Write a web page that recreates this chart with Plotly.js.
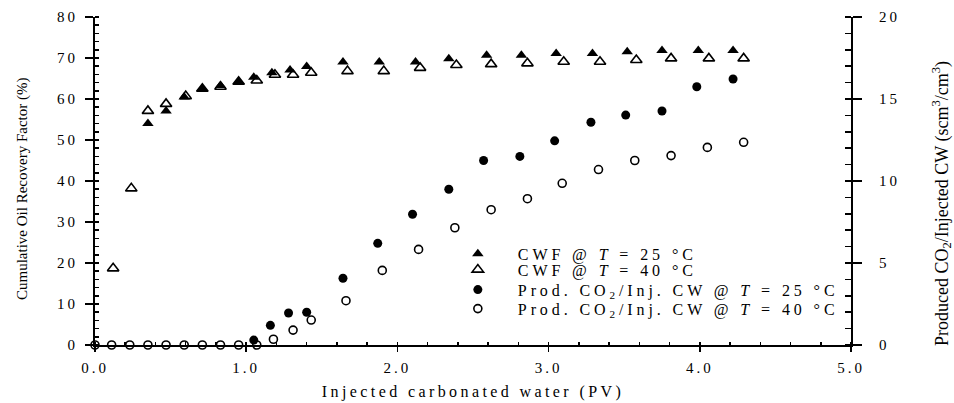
<!DOCTYPE html>
<html>
<head>
<meta charset="utf-8">
<script src="https://cdn.plot.ly/plotly-3.0.1.min.js"></script>
<style>
  html, body { margin: 0; padding: 0; background: #fff; }
  #chart { width: 954px; height: 403px; }
  /* wide, spaced-out lettering for the horizontal labels */
  g.xtick text, g.ytick text, g.y2tick text { letter-spacing: 3px; }
  text.xtitle { letter-spacing: 3.4px; }
  text.legendtext, .infolayer g[class^="legend"] text { letter-spacing: 3.9px; }
</style>
</head>
<body>
<div id="chart"></div>
<script>
// Cumulative oil recovery (left axis, %) for carbonated water flooding
const cwf25X = [0.35, 0.47, 0.59, 0.71, 0.83, 0.95, 1.05, 1.17, 1.29, 1.40, 1.64, 1.88, 2.12, 2.34, 2.59, 2.82, 3.05, 3.29, 3.52, 3.75, 3.99, 4.22];
const cwf25Y = [54.0, 57.1, 60.5, 62.5, 63.3, 64.2, 65.3, 66.4, 67.1, 67.9, 69.0, 69.0, 69.0, 69.8, 70.7, 70.7, 71.1, 71.1, 71.5, 71.8, 71.8, 71.8];

const cwf40X = [0.12, 0.24, 0.35, 0.47, 0.60, 0.71, 0.83, 0.95, 1.07, 1.19, 1.31, 1.43, 1.67, 1.91, 2.15, 2.39, 2.62, 2.86, 3.10, 3.34, 3.58, 3.81, 4.06, 4.29];
const cwf40Y = [18.7, 38.2, 57.1, 58.8, 60.7, 62.5, 63.0, 64.2, 64.5, 65.9, 65.9, 66.4, 66.8, 66.8, 67.6, 68.3, 68.5, 68.7, 69.1, 69.1, 69.5, 69.9, 69.9, 69.9];

// Produced CO2 per injected carbonated water (right axis, scm3/cm3)
const co225X = [1.05, 1.16, 1.28, 1.40, 1.64, 1.87, 2.10, 2.34, 2.57, 2.81, 3.04, 3.28, 3.51, 3.75, 3.98, 4.22];
const co225Y = [0.3, 1.2, 1.95, 2.0, 4.07, 6.2, 7.97, 9.5, 11.25, 11.5, 12.45, 13.58, 14.02, 14.27, 15.75, 16.22];

const co240X = [0.0, 0.11, 0.23, 0.35, 0.47, 0.59, 0.71, 0.83, 0.95, 1.07, 1.18, 1.31, 1.43, 1.66, 1.90, 2.14, 2.38, 2.62, 2.86, 3.09, 3.33, 3.57, 3.81, 4.05, 4.29];
const co240Y = [0, 0, 0, 0, 0, 0, 0, 0, 0, 0, 0.35, 0.91, 1.52, 2.70, 4.55, 5.83, 7.15, 8.25, 8.92, 9.86, 10.7, 11.25, 11.55, 12.05, 12.36];

const seriesNames = [
  'CWF @ <i>T</i> = 25 °C',
  'CWF @ <i>T</i> = 40 °C',
  'Prod. CO<sub>2</sub>/Inj. CW @ <i>T</i> = 25 °C',
  'Prod. CO<sub>2</sub>/Inj. CW @ <i>T</i> = 40 °C'
];

const xTitle = 'Injected carbonated water (PV)';
const yTitle = 'Cumulative Oil Recovery Factor (%)';
const y2Title = 'Produced CO<sub>2</sub>/Injected CW (scm<sup>3</sup>/cm<sup>3</sup>)';

const serif = 'Liberation Serif, Times New Roman, serif';
const ink = '#000';

const traces = [
  { x: cwf25X, y: cwf25Y, name: seriesNames[0], type: 'scatter', mode: 'markers', cliponaxis: false, legend: 'legend',
    marker: { symbol: 'triangle-up', size: 10, color: ink, line: { width: 0 } } },
  { x: cwf40X, y: cwf40Y, name: seriesNames[1], type: 'scatter', mode: 'markers', cliponaxis: false, legend: 'legend2',
    marker: { symbol: 'triangle-up-open', size: 10, color: ink, line: { width: 1.6, color: ink } } },
  { x: co225X, y: co225Y, name: seriesNames[2], type: 'scatter', mode: 'markers', yaxis: 'y2', cliponaxis: false, legend: 'legend3',
    marker: { symbol: 'circle', size: 9, color: ink, line: { width: 0 } } },
  { x: co240X, y: co240Y, name: seriesNames[3], type: 'scatter', mode: 'markers', yaxis: 'y2', cliponaxis: false, legend: 'legend4',
    marker: { symbol: 'circle-open', size: 8, color: ink, line: { width: 1.6, color: ink } } }
];

// one single-row legend per series so each row sits at its own height
function legendRow(yPos) {
  return {
    x: 0.4535, y: yPos, xanchor: 'left', yanchor: 'top',
    bgcolor: 'rgba(0,0,0,0)', borderwidth: 0,
    font: { family: serif, size: 16, color: ink },
    itemwidth: 70
  };
}

const layout = {
  width: 954, height: 403,
  margin: { l: 95, r: 103, t: 17, b: 58 },
  paper_bgcolor: '#fff', plot_bgcolor: '#fff',
  font: { family: serif, color: ink, size: 15 },
  showlegend: true,
  legend: legendRow(0.330),
  legend2: legendRow(0.2814),
  legend3: legendRow(0.2204),
  legend4: legendRow(0.1625),
  xaxis: {
    range: [0, 5], dtick: 1, tick0: 0, tickformat: '.1f',
    showgrid: false, zeroline: false,
    showline: true, linecolor: ink, linewidth: 1.5,
    ticks: 'outside', ticklen: 5, tickwidth: 1.5, tickcolor: ink,
    ticklabelstandoff: 3,
    tickfont: { family: serif, size: 15, color: ink },
    minor: { dtick: 0.2, ticks: 'inside', ticklen: 3, tickwidth: 1.5, tickcolor: ink },
    title: { text: xTitle, font: { family: serif, size: 16, color: ink }, standoff: 11 }
  },
  yaxis: {
    range: [0, 80], dtick: 10, tick0: 0,
    showgrid: false, zeroline: false,
    showline: true, linecolor: ink, linewidth: 2,
    ticks: 'outside', ticklen: 8, tickwidth: 1.5, tickcolor: ink,
    ticklabelstandoff: 4,
    tickfont: { family: serif, size: 15, color: ink },
    minor: { dtick: 2, ticks: 'inside', ticklen: 4, tickwidth: 1.5, tickcolor: ink }
  },
  yaxis2: {
    overlaying: 'y', side: 'right', anchor: 'x',
    range: [0, 20], dtick: 5, tick0: 0,
    showgrid: false, zeroline: false,
    showline: true, linecolor: ink, linewidth: 2,
    ticks: 'outside', ticklen: 9, tickwidth: 1.5, tickcolor: ink,
    ticklabelstandoff: 14,
    tickfont: { family: serif, size: 15, color: ink },
    minor: { dtick: 1, ticks: 'inside', ticklen: 6, tickwidth: 1.5, tickcolor: ink }
  },
  // vertical axis titles, placed beside their axes
  annotations: [
    { text: yTitle, textangle: -90, xref: 'paper', yref: 'paper', x: -0.0966, y: 0.4756,
      xanchor: 'center', yanchor: 'middle', showarrow: false,
      font: { family: serif, size: 15, color: ink } },
    { text: y2Title, textangle: -90, xref: 'paper', yref: 'paper', x: 1.1204, y: 0.43,
      xanchor: 'center', yanchor: 'middle', showarrow: false,
      font: { family: serif, size: 18, color: ink } }
  ]
};

Plotly.newPlot('chart', traces, layout, { staticPlot: true, displayModeBar: false }).then(function (gd) {
  // the spaced-out legend labels run past the measured box, so let them show in full
  gd.querySelectorAll('.infolayer g[class^="legend"] [clip-path]').forEach(function (el) {
    el.removeAttribute('clip-path');
  });
});
</script>
</body>
</html>
